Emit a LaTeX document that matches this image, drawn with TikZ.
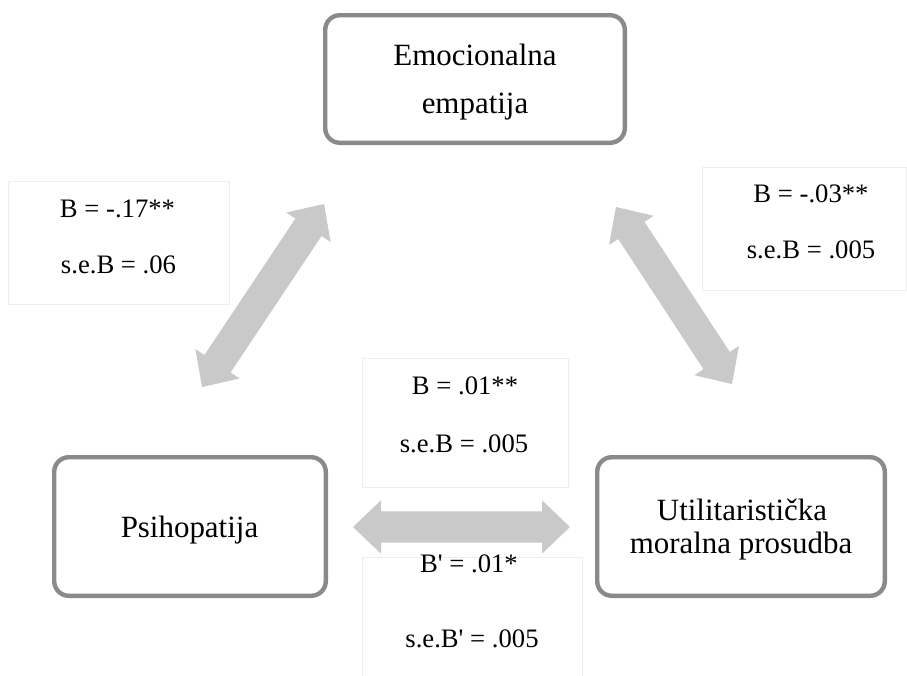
\documentclass[tikz,border=0pt]{standalone}
\usepackage{fontspec}
\setmainfont{Liberation Serif}[Ligatures=TeXOff]
\usetikzlibrary{calc}
\definecolor{boxgray}{RGB}{138,138,138}
\definecolor{arrgray}{RGB}{201,201,201}
\definecolor{faintgray}{RGB}{238,238,238}
\newcommand\fatarrow[2]{%
  \coordinate (h1) at ($(#1)!21pt!(#2)$);
  \coordinate (h2) at ($(#2)!21pt!(#1)$);
  \fill[arrgray] (#1) -- ($(h1)!20pt!90:(#2)$) -- ($(h1)!11.8pt!90:(#2)$)
    -- ($(h2)!11.8pt!-90:(#1)$) -- ($(h2)!20pt!-90:(#1)$) -- (#2)
    -- ($(h2)!20pt!90:(#1)$) -- ($(h2)!11.8pt!90:(#1)$)
    -- ($(h1)!11.8pt!-90:(#2)$) -- ($(h1)!20pt!-90:(#2)$) -- cycle;}
\begin{document}
\begin{tikzpicture}[x=0.75pt,y=-0.75pt,
  mainbox/.style={draw=boxgray, line width=3.3pt, rounded corners=11pt, fill=white, inner sep=0pt},
  labbox/.style={draw=faintgray, line width=0.75pt, fill=white, inner sep=0pt},
  boxtext/.style={font=\fontsize{23.2}{28}\selectfont, anchor=base, inner sep=0pt},
  labtext/.style={font=\fontsize{20}{24}\selectfont, anchor=base, inner sep=0pt}]
\useasboundingbox (0,0) rectangle (907,675);
% label boxes
\node[labbox, minimum width=221*0.75pt, minimum height=123*0.75pt] (lbl1) at (118.5,242.5) {};
\node[labbox, minimum width=204*0.75pt, minimum height=123*0.75pt] (lbl2) at (804,228.5) {};
\node[labbox, minimum width=206*0.75pt, minimum height=129*0.75pt] (lbl3) at (465,422.5) {};
\node[labbox, minimum width=220*0.75pt, minimum height=123*0.75pt] (lbl4) at (472,618.5) {};
% arrows
\coordinate (a1) at (202,387); \coordinate (b1) at (324,204);
\coordinate (a2) at (616,207); \coordinate (b2) at (732,384);
\coordinate (a3) at (353,527); \coordinate (b3) at (570,527);
\fatarrow{a1}{b1}
\fatarrow{a2}{b2}
\fatarrow{a3}{b3}
% main boxes
\node[mainbox, minimum width=299.6*0.75pt, minimum height=127.6*0.75pt] (emp) at (475,79) {};
\node[mainbox, minimum width=271.6*0.75pt, minimum height=138.6*0.75pt] (psi) at (190,526.5) {};
\node[mainbox, minimum width=287.6*0.75pt, minimum height=138.6*0.75pt] (util) at (741,526.5) {};
% box texts
\node[boxtext] (empt1) at (475,65) {Emocionalna};
\node[boxtext] (empt2) at (475,113) {empatija};
\node[boxtext] (psit) at (189.5,537) {Psihopatija};
\node[boxtext] (utilt1) at (742,520) {Utilitaristička};
\node[boxtext] (utilt2) at (741,553) {moralna prosudba};
% label texts
\node[labtext] (l1a) at (117.5,217) {B = -.17**};
\node[labtext] (l1b) at (118.5,273) {s.e.B = .06};
\node[labtext] (l2a) at (811,202) {B = -.03**};
\node[labtext] (l2b) at (811,258) {s.e.B = .005};
\node[labtext] (l3a) at (465,394) {B = .01**};
\node[labtext] (l3b) at (464,452) {s.e.B = .005};
\node[labtext] (l4a) at (469,572) {B' = .01*};
\node[labtext] (l4b) at (472,647) {s.e.B' = .005};
\end{tikzpicture}
\end{document}
